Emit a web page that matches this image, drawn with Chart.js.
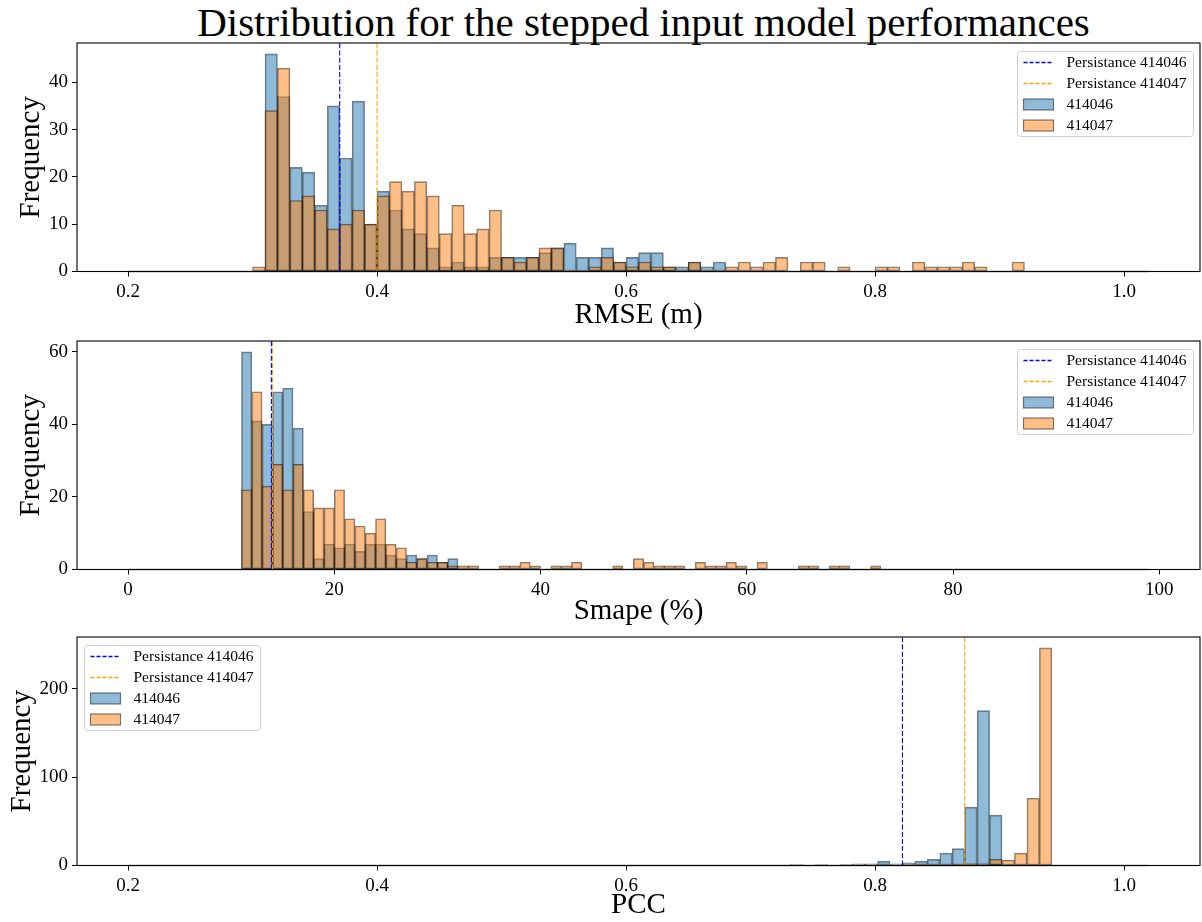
<!DOCTYPE html>
<html>
<head>
<meta charset="utf-8">
<script src="https://cdn.jsdelivr.net/npm/chart.js@4.4.1/dist/chart.umd.min.js"></script>
<style>
  html, body { margin: 0; padding: 0; background: #fff; width: 1202px; height: 922px; overflow: hidden; }
  #title { position: absolute; left: 82px; top: 0; width: 1123px; text-align: center;
           font-family: "Liberation Serif", serif; font-size: 41px; line-height: 45px; color: #000;
           white-space: nowrap; }
  canvas { position: absolute; left: 0; }
</style>
</head>
<body>
<div id="title">Distribution for the stepped input model performances</div>
<canvas id="rmse" width="1202" height="330" style="top:0px"></canvas>
<canvas id="smape" width="1202" height="330" style="top:298px"></canvas>
<canvas id="pcc" width="1202" height="330" style="top:594px"></canvas>
<script>
// --- RMSE (m): counts per 0.01 bin, first bin starts at rmseStart
const rmseStart = 0.30;
const rmseBin = 0.01;
const rmse414046 = [0, 46, 37, 22, 21, 14, 35, 24, 36, 10,
                    17, 13, 9, 8, 5, 1, 2, 1, 1, 3,
                    3, 3, 3, 4, 5, 6, 3, 3, 5, 2,
                    3, 4, 4, 1, 1, 2, 1, 2];
const rmse414047 = [1, 34, 43, 15, 16, 13, 9, 10, 13, 10,
                    16, 19, 17, 19, 16, 8, 14, 8, 9, 13,
                    3, 2, 3, 5, 5, 0, 0, 1, 3, 2,
                    1, 2, 1, 1, 0, 2, 0, 0, 1, 2,
                    1, 2, 3, 0, 2, 2, 0, 1, 0, 0,
                    1, 1, 0, 2, 1, 1, 1, 2, 1, 0,
                    0, 2];
const rmseRange = [0.2, 1.02];
const rmsePersistence = [0.37, 0.40];
const rmseTicksX = [0.2, 0.4, 0.6, 0.8, 1.0];
const rmseTicksY = [0, 10, 20, 30, 40];

// --- Smape (%): counts per 1% bin
const smapeStart = 11;
const smapeBin = 1;
const smape414046 = [60, 41, 40, 49, 50, 39, 16, 3, 7, 6,
                     7, 5, 7, 7, 4, 3, 4, 3, 4, 2,
                     3];
const smape414047 = [22, 49, 23, 29, 22, 29, 22, 17, 17, 22,
                     14, 12, 10, 14, 7, 6, 2, 3, 2, 2,
                     1, 1, 1, 0, 0, 1, 1, 2, 1, 0,
                     1, 1, 2, 0, 0, 0, 1, 0, 3, 2,
                     1, 1, 1, 0, 2, 1, 1, 2, 1, 0,
                     2, 0, 0, 0, 1, 1, 0, 1, 1, 0,
                     0, 1];
const smapeRange = [0, 99];
const smapePersistence = [13.9, 14.0];
const smapeTicksX = [0, 20, 40, 60, 80, 100];
const smapeTicksY = [0, 20, 40, 60];

// --- PCC: counts per 0.01 bin
const pccStart = 0.732;
const pccBin = 0.01;
const pcc414046 = [1, 0, 1, 0, 1, 2, 2, 5, 2, 3,
                   5, 7, 14, 19, 66, 175, 57];
const pcc414047 = [0, 0, 0, 0, 0, 0, 0, 0, 0, 0,
                   0, 0, 0, 1, 2, 2, 7, 6, 14, 76,
                   246];
const pccRange = [0.2, 1.02];
const pccPersistence = [0.822, 0.872];
const pccTicksX = [0.2, 0.4, 0.6, 0.8, 1.0];
const pccTicksY = [0, 100, 200];

const stations = ['414046', '414047'];
const SERIF = '"Liberation Serif", "Times New Roman", serif';

// full frame round the plot area, like matplotlib spines
const frame = {
  id: 'frame',
  afterDatasetsDraw(chart) {
    const a = chart.chartArea, ctx = chart.ctx;
    ctx.save();
    ctx.strokeStyle = '#000';
    ctx.lineWidth = 1.1;
    ctx.strokeRect(a.left, a.top, a.right - a.left, a.bottom - a.top);
    ctx.restore();
  }
};

// boxed legend inside the plot area
const boxLegend = {
  id: 'boxLegend',
  afterDraw(chart, args, opts) {
    const a = chart.chartArea, ctx = chart.ctx;
    const items = chart.data.datasets.filter(d => d.label);
    const w = 176, h = 85;
    const x0 = Math.round(opts.corner === 'left' ? a.left + 7 : a.right - 7 - w) + 0.5;
    const y0 = Math.round(a.top + 8) + 0.5;
    ctx.save();
    ctx.beginPath();
    ctx.roundRect(x0, y0, w, h, 3);
    ctx.fillStyle = 'rgba(255,255,255,0.8)';
    ctx.fill();
    ctx.strokeStyle = '#d0d0d0';
    ctx.lineWidth = 1;
    ctx.stroke();
    items.forEach((d, i) => {
      const cy = y0 + 11 + i * 21;
      if (d.type === 'line') {
        ctx.setLineDash([4, 2]);
        ctx.strokeStyle = d.borderColor;
        ctx.lineWidth = 1.3;
        ctx.beginPath();
        ctx.moveTo(x0 + 6, cy);
        ctx.lineTo(x0 + 36, cy);
        ctx.stroke();
        ctx.setLineDash([]);
      } else {
        ctx.fillStyle = d.backgroundColor;
        ctx.fillRect(x0 + 6, cy - 5.5, 30, 11);
        ctx.strokeStyle = d.borderColor;
        ctx.lineWidth = 1.2;
        ctx.strokeRect(x0 + 6, cy - 5.5, 30, 11);
      }
      ctx.fillStyle = '#000';
      ctx.font = '15.5px ' + SERIF;
      ctx.textBaseline = 'middle';
      ctx.fillText(d.label, x0 + 49, cy);
    });
    ctx.restore();
  }
};

function bins(start, width, counts) {
  return counts.map((c, i) => ({ x: start + (i + 0.5) * width, y: c }));
}

function vline(x, yMax) {
  return [{ x: x, y: 0 }, { x: x, y: yMax }];
}

function histChart(id, p) {
  const persColors = ['#0000ff', '#ffa500'];
  const barColors = ['rgba(31,119,180,0.5)', 'rgba(255,127,14,0.5)'];
  const datasets = [];
  p.persistence.forEach((v, i) => datasets.push({
    type: 'line', label: 'Persistance ' + stations[i], data: vline(v, p.yMax),
    borderColor: persColors[i], borderWidth: 1.1, borderDash: [5, 2.2],
    pointRadius: 0, order: 0
  }));
  p.series.forEach((s, i) => datasets.push({
    type: 'bar', label: stations[i], data: bins(p.start, p.width, s),
    backgroundColor: barColors[i], borderColor: 'rgba(0,0,0,0.5)', borderWidth: 1,
    borderSkipped: false, grouped: false, barPercentage: 1, categoryPercentage: 1,
    order: 2 - i
  }));
  // zero-height bins still draw their edge in matplotlib
  datasets.push({
    type: 'line', data: [{ x: p.range[0], y: 0 }, { x: p.range[1], y: 0 }],
    borderColor: 'rgba(0,0,0,0.45)', borderWidth: 1.5, pointRadius: 0, clip: 4, order: 0
  });

  const tickFont = { family: SERIF, size: 19 };
  const titleFont = { family: SERIF, size: 29, lineHeight: 1 };
  const tickGrid = { display: true, drawOnChartArea: false, drawTicks: true, tickLength: 5,
                     tickColor: '#000', tickWidth: 1, offset: false };
  return new Chart(document.getElementById(id), {
    type: 'bar',
    data: { datasets },
    options: {
      responsive: false,
      animation: false,
      layout: { padding: { top: 43, right: 2, left: 0, bottom: 0 } },
      plugins: {
        legend: { display: false },
        tooltip: { enabled: false },
        boxLegend: { corner: p.corner }
      },
      scales: {
        x: {
          type: 'linear', min: p.xMin, max: p.xMax, offset: false,
          afterBuildTicks: s => { s.ticks = p.xTicks.map(v => ({ value: v })); },
          afterFit: s => { s.height = 58.5; },
          ticks: { font: tickFont, color: '#000', padding: 4, maxRotation: 0,
                   callback: p.xFmt },
          grid: tickGrid,
          border: { display: false },
          title: { display: true, text: p.xTitle, font: titleFont, color: '#000',
                   padding: { top: 0, bottom: p.xTitlePad } }
        },
        y: {
          min: 0, max: p.yMax,
          afterBuildTicks: s => { s.ticks = p.yTicks.map(v => ({ value: v })); },
          afterFit: s => { s.width = 77; },
          ticks: { font: tickFont, color: '#000', padding: 4 },
          grid: tickGrid,
          border: { display: false },
          title: { display: true, text: 'Frequency', font: titleFont, color: '#000',
                   padding: { top: p.yTitlePad, bottom: 0 } }
        }
      }
    },
    plugins: [frame, boxLegend]
  });
}

const oneDecimal = v => v.toFixed(1);

histChart('rmse', {
  start: rmseStart, width: rmseBin, series: [rmse414046, rmse414047],
  range: rmseRange, persistence: rmsePersistence,
  xMin: 0.159, xMax: 1.061, yMax: 48.3, xTicks: rmseTicksX, yTicks: rmseTicksY,
  xFmt: oneDecimal, xTitle: 'RMSE (m)', xTitlePad: 0, yTitlePad: 17, corner: 'right'
});

histChart('smape', {
  start: smapeStart, width: smapeBin, series: [smape414046, smape414047],
  range: smapeRange, persistence: smapePersistence,
  xMin: -4.95, xMax: 103.95, yMax: 63, xTicks: smapeTicksX, yTicks: smapeTicksY,
  xFmt: v => String(v), xTitle: 'Smape (%)', xTitlePad: 2.5, yTitlePad: 17, corner: 'right'
});

histChart('pcc', {
  start: pccStart, width: pccBin, series: [pcc414046, pcc414047],
  range: pccRange, persistence: pccPersistence,
  xMin: 0.159, xMax: 1.061, yMax: 258.3, xTicks: pccTicksX, yTicks: pccTicksY,
  xFmt: oneDecimal, xTitle: 'PCC', xTitlePad: 4.5, yTitlePad: 7.5, corner: 'left'
});
</script>
</body>
</html>
